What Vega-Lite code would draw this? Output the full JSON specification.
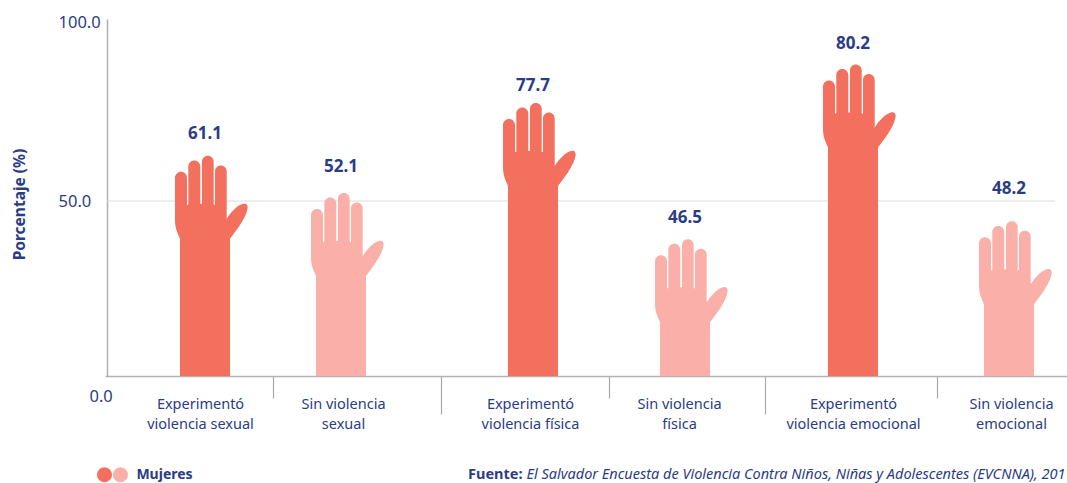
{"$schema":"https://vega.github.io/schema/vega-lite/v6.json","width":948,"height":357,"autosize":{"type":"none"},"padding":{"left":107,"top":19,"right":12,"bottom":107},"background":"white","config":{"font":"Noto Sans","view":{"stroke":null}},
"title":{"text":"Fuente:","orient":"top","anchor":"start","frame":"group","align":"left","baseline":"middle","offset":0,"dx":361,"dy":475,"font":"Noto Sans","fontSize":14.5,"fontWeight":"bold","color":"#2b3c87"},
"data":{"values":[
{"categoria":"Experimentó violencia sexual","grupo":"Experimentó violencia","valor":61.1,"alto_dibujado":62.9,"alto_etiqueta":69.4},
{"categoria":"Sin violencia sexual","grupo":"Sin violencia","valor":52.1,"alto_dibujado":52.3,"alto_etiqueta":60.0},
{"categoria":"Experimentó violencia física","grupo":"Experimentó violencia","valor":77.7,"alto_dibujado":78.0,"alto_etiqueta":83.1},
{"categoria":"Sin violencia física","grupo":"Sin violencia","valor":46.5,"alto_dibujado":39.1,"alto_etiqueta":45.4},
{"categoria":"Experimentó violencia emocional","grupo":"Experimentó violencia","valor":80.2,"alto_dibujado":89.0,"alto_etiqueta":95.1},
{"categoria":"Sin violencia emocional","grupo":"Sin violencia","valor":48.2,"alto_dibujado":44.2,"alto_etiqueta":53.7}
]},
"encoding":{
"x":{"field":"categoria","type":"nominal","scale":{"type":"point","padding":0,"range":[-2,966],"domain":["0","1","2","3","4","5","6","7","8","9","10","11","12","13","14","15","16","17","18","19","20","21","22","23","24","Experimentó violencia sexual","26","27","28","29","30","31","32","33","34","35","36","37","38","39","40","41","42","43","44","45","46","47","48","49","50","51","52","53","54","55","56","57","58","Sin violencia sexual","60","61","62","63","64","65","66","67","68","69","70","71","72","73","74","75","76","77","78","79","80","81","82","83","84","85","86","87","88","89","90","91","92","93","94","95","96","97","98","99","100","101","102","103","104","105","106","Experimentó violencia física","108","109","110","111","112","113","114","115","116","117","118","119","120","121","122","123","124","125","126","127","128","129","130","131","132","133","134","135","136","137","138","139","140","141","142","143","144","Sin violencia física","146","147","148","149","150","151","152","153","154","155","156","157","158","159","160","161","162","163","164","165","166","167","168","169","170","171","172","173","174","175","176","177","178","179","180","181","182","183","184","185","186","Experimentó violencia emocional","188","189","190","191","192","193","194","195","196","197","198","199","200","201","202","203","204","205","206","207","208","209","210","211","212","213","214","215","216","217","218","219","220","221","222","223","224","225","Sin violencia emocional","227","228","229","230","231","232","233","234","235","236","237","238","239","240","241","242"]},
"axis":{"values":["Experimentó violencia sexual","42","Sin violencia sexual","84","Experimentó violencia física","126","Sin violencia física","165","Experimentó violencia emocional","208","Sin violencia emocional"],
"labelExpr":"length(datum.value)<4 ? '' : (indexof(datum.value,'Exp')==0 ? ['Experimentó', slice(datum.value,12)] : ['Sin violencia', slice(datum.value,14)])",
"labelAngle":0,"labelAlign":"center","labelBaseline":"middle","labelFontSize":14.5,"labelColor":"#2b3c87","labelLineHeight":20,"labelPadding":28,"labelOverlap":false,"labelBound":false,"labelFlush":false,
"labelOffset":{"condition":[{"test":"datum.value=='Experimentó violencia sexual'","value":-5},{"test":"datum.value=='Sin violencia sexual'","value":2},{"test":"datum.value=='Experimentó violencia física'","value":-3},{"test":"datum.value=='Sin violencia física'","value":-6},{"test":"datum.value=='Sin violencia emocional'","value":2}],"value":0},
"tickSize":{"condition":[{"test":"length(datum.value)>=4","value":0},{"test":"datum.value=='84'||datum.value=='165'","value":38}],"value":22},
"tickColor":"#a9a9a9","tickWidth":1.2,"domainColor":"#b3b3b3","domainWidth":1.6,
"title":"El Salvador Encuesta de Violencia Contra Niños, Niñas y Adolescentes (EVCNNA), 2017","titleX":419,"titleY":98,"titleAlign":"left","titleBaseline":"middle","titleFontStyle":"italic","titleFontWeight":"normal","titleFontSize":14.5,"titleColor":"#2b3c87"}}
},
"layer":[
{"data":{"values":[{"referencia":50}]},"mark":{"type":"rule","color":"#dcdcdc","strokeWidth":1},
"encoding":{"x":null,"y":{"field":"referencia","type":"quantitative","scale":{"domain":[0,102],"nice":false,"zero":true},
"axis":{"values":[0,50,100],"format":".1f","grid":false,"ticks":false,"domainColor":"#b3b3b3","domainWidth":1.6,
"labelAlign":"left","labelBaseline":"middle","labelFontSize":16.5,"labelColor":"#2b3c87","labelBound":false,"labelFlush":false,
"labelPadding":{"condition":{"test":"datum.value==0","value":18},"value":49},
"labelOffset":{"condition":[{"test":"datum.value==0","value":20},{"test":"datum.value==100","value":-4}],"value":0},
"title":"Porcentaje (%)","titleX":-88,"titleY":185,"titleAngle":270,"titleAlign":"center","titleBaseline":"middle","titleFontSize":15.5,"titleFontWeight":"bold","titleColor":"#2b3c87"}}}},
{"mark":{"type":"bar","width":50,"yOffset":70},
"encoding":{"y":{"field":"alto_dibujado","type":"quantitative","stack":null},
"y2":{"datum":0},
"color":{"field":"grupo","type":"nominal","scale":{"domain":["Experimentó violencia","Sin violencia"],"range":["#f3705f","#fab0a9"]},
"legend":{"orient":"none","legendX":-10.5,"legendY":447.5,"direction":"horizontal","columns":2,"title":null,"padding":0,"symbolType":"circle","symbolSize":227,"symbolStrokeWidth":0,"symbolOpacity":1,"columnPadding":0,"labelOffset":-3,"labelExpr":"datum.index==1 ? '\u200b\u00a0\u00a0\u00a0Mujeres' : ''","labelFontSize":14,"labelFontWeight":"bold","labelColor":"#2b3c87"}}}},
{"mark":{"type":"point","filled":true,"opacity":1,"size":4,"strokeWidth":0,"shape":"M -25 83 C -28 76 -30 72 -30 64 L -30 22 A 6 6 0 0 1 -18 22 L -18 49 L -16.7 49 L -16.7 10.6 A 6 6 0 0 1 -4.7 10.6 L -4.7 48 L -3 48 L -3 5.85 A 5.85 5.85 0 0 1 8.7 5.85 L 8.7 49 L 10 49 L 10 15.4 A 5.85 5.85 0 0 1 21.7 15.4 L 21.7 63 C 26 56 33 49 38 48 C 42 47 43 49.5 42.5 53 C 41 62 32 74 25 83 Z"},
"encoding":{"y":{"field":"alto_dibujado","type":"quantitative"},"color":{"field":"grupo","type":"nominal"}}},
{"mark":{"type":"text","font":"Noto Sans","fontSize":17,"fontWeight":"bold","color":"#2b3c87","baseline":"middle","align":"center","dy":0.5},
"encoding":{"y":{"field":"alto_etiqueta","type":"quantitative"},"text":{"field":"valor","type":"quantitative","format":".1f"}}}
]}
